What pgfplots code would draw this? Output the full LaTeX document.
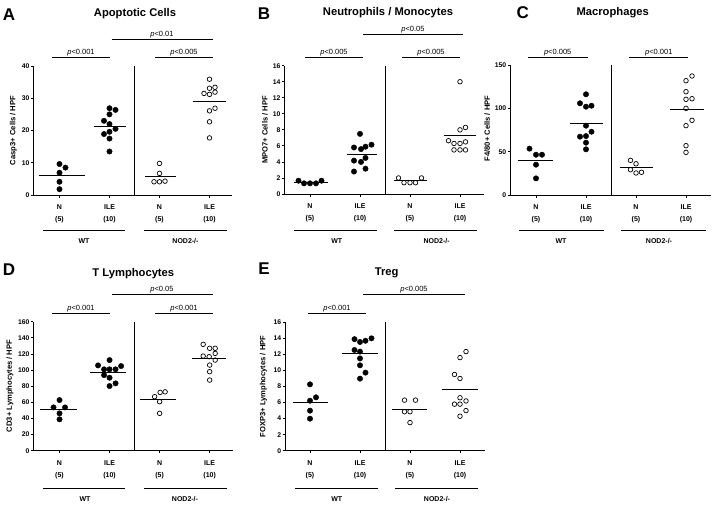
\documentclass[border=0pt]{standalone}
\usepackage{pgfplots}
\pgfplotsset{compat=1.18}
\usepackage{fontspec}
\setmainfont{Liberation Sans}
\newcommand{\tk}{\bfseries\fontsize{7}{11.6}\selectfont}
\newcommand{\yt}{\bfseries\fontsize{6.8}{8}\selectfont}
\newcommand{\yl}{\bfseries\fontsize{7.6}{9}\selectfont}
\newcommand{\pv}{\fontsize{7.5}{9}\selectfont}
\newcommand{\ttl}{\bfseries\fontsize{11.2}{13}\selectfont}
\newcommand{\lt}{\bfseries\fontsize{17}{19}\selectfont}
\pgfplotsset{
 panel/.style={
  scale only axis, clip=false, anchor=south west,
  axis x line*=bottom, axis y line*=left,
  axis line style={line width=0.8pt,-},
  every tick/.style={black,line width=0.8pt},
  tick align=outside, major tick length=2.5pt,
  xtick={1,2,3,4},
  xticklabels={N\\(5),ILE\\(10),N\\(5),ILE\\(10)},
  xticklabel style={align=center,font=\tk,yshift=-4pt},
  yticklabel style={font=\yt,inner sep=1.2pt},
  /pgf/number format/assume math mode=true,
  ymin=0,
 },
 fdot/.style={only marks, mark=*, mark size=2.7pt, black},
 odot/.style={only marks, mark=o, mark size=2.3pt, black, mark options={line width=0.7pt}},
 mline/.style={black, line width=0.9pt, no marks},
}
\begin{document}
\begin{tikzpicture}
\useasboundingbox (0,0) rectangle (716pt,-506pt);
% ---------------- A
\begin{axis}[panel, at={(33.3pt,-195pt)}, width=198.7pt, height=129pt,
  xmin=0.476, xmax=4.45, ymax=40, ytick={0,10,20,30,40}]
\addplot[fdot] coordinates {(1,9.6)(1.12,8.5)(1,6.9)(1,4.1)(1,1.8)};
\addplot[fdot] coordinates {(2,26.9)(2.12,26.4)(2,25.0)(1.89,23.0)(2,22.0)(2.12,20.5)(1.89,18.9)(2,19.6)(2,17.5)(2,13.5)};
\addplot[odot] coordinates {(3,9.8)(3,6.7)(2.89,4.1)(3,4.1)(3.11,4.3)};
\addplot[odot] coordinates {(4,35.9)(4,33.1)(4.11,33.4)(3.89,31.5)(4,31.2)(4.11,31.9)(4,26.1)(4.11,26.9)(4,22.7)(4,17.7)};
\addplot[mline] coordinates {(0.58,6.18)(1.5,6.18)};
\addplot[mline] coordinates {(1.68,21.33)(2.33,21.33)};
\addplot[mline] coordinates {(2.71,5.8)(3.32,5.8)};
\addplot[mline] coordinates {(3.66,29.04)(4.32,29.04)};
\draw[line width=0.8pt] (axis cs:2.5,0) -- (axis cs:2.5,40);
\end{axis}
% ---------------- B
\begin{axis}[panel, at={(284.3pt,-194pt)}, width=200pt, height=128.3pt,
  xmin=0.486, xmax=4.486, ymax=16, ytick={0,2,...,16}]
\addplot[fdot] coordinates {(0.77,1.66)(0.88,1.33)(1,1.33)(1.12,1.33)(1.23,1.66)};
\addplot[fdot] coordinates {(2,7.5)(1.88,5.8)(2.02,5.6)(2.11,5.9)(2.23,6.15)(1.88,4.16)(2.02,4.0)(2.11,4.5)(1.88,2.8)(2.11,3.16)};
\addplot[odot] coordinates {(2.77,2.0)(2.88,1.41)(3,1.41)(3.11,1.41)(3.23,2.0)};
\addplot[odot] coordinates {(4,14)(4,8.0)(4.11,8.3)(3.77,6.65)(3.88,6.3)(4,6.3)(4.11,6.5)(3.88,5.5)(4,5.5)(4.11,5.5)};
\addplot[mline] coordinates {(0.67,1.46)(1.35,1.46)};
\addplot[mline] coordinates {(1.73,4.96)(2.33,4.96)};
\addplot[mline] coordinates {(2.68,1.65)(3.33,1.65)};
\addplot[mline] coordinates {(3.68,7.26)(4.32,7.26)};
\draw[line width=0.8pt] (axis cs:2.5,0) -- (axis cs:2.5,16);
\end{axis}
% ---------------- C
\begin{axis}[panel, at={(510pt,-195pt)}, width=201pt, height=130pt,
  xmin=0.48, xmax=4.5, ymax=150, ytick={0,50,100,150}]
\addplot[fdot] coordinates {(0.87,53.5)(1,46.5)(1.12,46.5)(1,35)(1,19.2)};
\addplot[fdot] coordinates {(2,116.2)(1.88,105.8)(2,101.9)(2.11,103)(2,80)(2.11,73)(1.88,67.3)(2,68)(2,60.4)(2,52.7)};
\addplot[odot] coordinates {(2.89,40)(3,36)(2.89,29.2)(3,25.4)(3.11,26.2)};
\addplot[odot] coordinates {(4,131.9)(4.12,137.3)(4,119.2)(4,110.4)(4.12,111.1)(4,100)(4,80)(4.12,86.2)(4,56.9)(4,49.2)};
\addplot[mline] coordinates {(0.63,40.1)(1.33,40.1)};
\addplot[mline] coordinates {(1.67,82.8)(2.33,82.8)};
\addplot[mline] coordinates {(2.67,31.4)(3.33,31.4)};
\addplot[mline] coordinates {(3.68,98.2)(4.36,98.2)};
\draw[line width=0.8pt] (axis cs:2.51,0) -- (axis cs:2.51,150);
\end{axis}
% ---------------- D
\begin{axis}[panel, at={(33.3pt,-450.7pt)}, width=199.4pt, height=129pt,
  xmin=0.476, xmax=4.46, ymax=160, ytick={0,20,...,160}]
\addplot[fdot] coordinates {(1,62.8)(0.88,53.7)(1.11,53.7)(1,46.3)(1,38.9)};
\addplot[fdot] coordinates {(2,112.4)(1.77,105.8)(2.23,105)(1.89,100.9)(2,100.9)(2.12,100.9)(1.89,93.8)(2,90.5)(2.12,83.5)(2,80.2)};
\addplot[odot] coordinates {(2.9,67)(3.01,72.3)(3.11,73)(3,60.8)(3,46.3)};
\addplot[odot] coordinates {(3.87,131.9)(4,127)(4.11,127)(3.87,117.4)(3.99,116.6)(4.11,120.7)(4.11,112.4)(4,106.2)(4,98)(4,87.6)};
\addplot[mline] coordinates {(0.61,51.1)(1.34,51.1)};
\addplot[mline] coordinates {(1.61,97.4)(2.33,97.4)};
\addplot[mline] coordinates {(2.61,63.9)(3.33,63.9)};
\addplot[mline] coordinates {(3.64,114.5)(4.33,114.5)};
\draw[line width=0.8pt] (axis cs:2.5,0) -- (axis cs:2.5,160);
\end{axis}
% ---------------- E
\begin{axis}[panel, at={(285pt,-450.7pt)}, width=200pt, height=128.4pt,
  xmin=0.5, xmax=4.5, ymax=16, ytick={0,2,...,16}]
\addplot[fdot] coordinates {(1,8.27)(1.12,6.65)(1,6.23)(1,4.99)(1,3.99)};
\addplot[fdot] coordinates {(1.89,13.9)(2,13.55)(2.11,13.7)(2.23,14.0)(1.89,12.55)(2,12.35)(2,11.5)(2,10.64)(2.11,9.73)(2,8.98)};
\addplot[odot] coordinates {(2.89,6.3)(3.11,6.3)(2.89,4.86)(3,4.86)(3,3.5)};
\addplot[odot] coordinates {(4.12,12.35)(4,11.6)(3.89,9.5)(4,9.0)(4,6.6)(3.89,5.8)(4,5.8)(4.12,6.2)(4.12,5.0)(4,4.3)};
\addplot[mline] coordinates {(0.65,6.03)(1.35,6.03)};
\addplot[mline] coordinates {(1.63,12.09)(2.35,12.09)};
\addplot[mline] coordinates {(2.63,5.16)(3.33,5.16)};
\addplot[mline] coordinates {(3.63,7.6)(4.35,7.6)};
\draw[line width=0.8pt] (axis cs:2.51,0) -- (axis cs:2.51,16);
\end{axis}
% ---------------- decorations (pixel coordinates)
\begin{scope}[x=1pt,y=-1pt]
% letters
\node[font=\lt] at (9,14.5) {A};
\node[font=\lt] at (264,13.5) {B};
\node[font=\lt] at (522.7,13) {C};
\node[font=\lt] at (9,269.5) {D};
\node[font=\lt] at (264,269) {E};
% titles
\node[font=\ttl] at (135,14) {Apoptotic Cells};
\node[font=\ttl] at (388,13) {Neutrophils / Monocytes};
\node[font=\ttl] at (612.7,13) {Macrophages};
\node[font=\ttl] at (133.3,273.3) {T Lymphocytes};
\node[font=\ttl] at (386.7,273.3) {Treg};
% y labels
\node[font=\yl,rotate=90] at (13.3,130.5) {Casp3+ Cells / HPF};
\node[font=\yl,rotate=90] at (265,130) {MPO7+ Cells / HPF};
\node[font=\yl,rotate=90] at (487.3,128.5) {F4/80+ Cells / HPF};
\node[font=\yl,rotate=90] at (10,386) {CD3+ Lymphocytes / HPF};
\node[font=\yl,rotate=90] at (263.3,386.5) {FOXP3+ Lymphocytes / HPF};
% significance bars
\tikzset{sb/.style={line width=0.8pt}, pt/.style={font=\pv,anchor=base,inner sep=0pt}}
% A
\draw[sb] (51.7,57.3) -- (110,57.3); \node[pt] at (81,54.5) {\textit{p}<0.001};
\draw[sb] (155,57.3) -- (212.7,57.3); \node[pt] at (184,54.5) {\textit{p}<0.005};
\draw[sb] (111.7,39) -- (212.7,39); \node[pt] at (162,36.2) {\textit{p}<0.01};
% B
\draw[sb] (305,57.3) -- (363.3,57.3); \node[pt] at (334,54.5) {\textit{p}<0.005};
\draw[sb] (402.3,57.3) -- (460,57.3); \node[pt] at (431,54.5) {\textit{p}<0.005};
\draw[sb] (363.3,34) -- (463.3,34); \node[pt] at (413,31.2) {\textit{p}<0.05};
% C
\draw[sb] (527.7,57.3) -- (587.7,57.3); \node[pt] at (557.7,54.5) {\textit{p}<0.005};
\draw[sb] (629.3,57.3) -- (688.3,57.3); \node[pt] at (658.8,54.5) {\textit{p}<0.001};
% D
\draw[sb] (51.7,313.3) -- (110,313.3); \node[pt] at (81,310.5) {\textit{p}<0.001};
\draw[sb] (155,313.3) -- (212.7,313.3); \node[pt] at (184,310.5) {\textit{p}<0.001};
\draw[sb] (111.7,294) -- (212.7,294); \node[pt] at (162,291.2) {\textit{p}<0.05};
% E
\draw[sb] (307.7,313.3) -- (366,313.3); \node[pt] at (337,310.5) {\textit{p}<0.001};
\draw[sb] (363.3,294.3) -- (465,294.3); \node[pt] at (414,291.5) {\textit{p}<0.005};
% group lines
\tikzset{gl/.style={line width=0.8pt}}
\draw[gl] (43,230) -- (125,230); \draw[gl] (144,230) -- (227,230);
\node[font=\tk] at (84,241) {WT}; \node[font=\tk] at (185.5,241) {NOD2-/-};
\draw[gl] (294,230.7) -- (376.7,230.7); \draw[gl] (394,230.7) -- (477,230.7);
\node[font=\tk] at (336.7,240.7) {WT}; \node[font=\tk] at (436.7,240.7) {NOD2-/-};
\draw[gl] (519.3,230) -- (604.3,230); \draw[gl] (621,230) -- (706,230);
\node[font=\tk] at (561,241) {WT}; \node[font=\tk] at (659,241) {NOD2-/-};
\draw[gl] (43.3,488.3) -- (125,488.3); \draw[gl] (144,488.3) -- (226.7,488.3);
\node[font=\tk] at (85,499.3) {WT}; \node[font=\tk] at (185,499.3) {NOD2-/-};
\draw[gl] (295,488.3) -- (377.7,488.3); \draw[gl] (395,488.3) -- (478.3,488.3);
\node[font=\tk] at (336.7,499.3) {WT}; \node[font=\tk] at (437,499.3) {NOD2-/-};
\end{scope}
\end{tikzpicture}
\end{document}
